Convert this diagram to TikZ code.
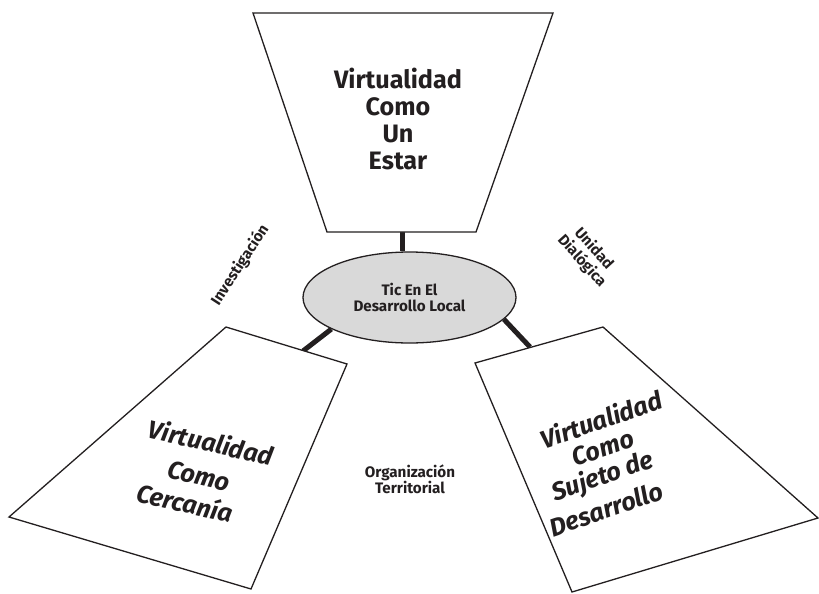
\documentclass[tikz,border=0pt]{standalone}
\usepackage{fontspec}
\setmainfont{Fira Sans}
\usetikzlibrary{shapes.geometric}
\definecolor{ink}{HTML}{231F20}
\definecolor{hubfill}{HTML}{D9D9D9}
\begin{document}
\begin{tikzpicture}[x=1pt,y=-1pt,
  panel/.style={draw=ink, line width=1.3pt, fill=white, line join=miter},
  link/.style={draw=ink, line width=5pt},
  big/.style={font=\bfseries\fontsize{25.2}{26.7}\selectfont, text=ink, align=center, inner sep=0pt},
  bigit/.style={font=\bfseries\itshape\fontsize{25.2}{26.7}\selectfont, text=ink, inner sep=0pt},
  lbl/.style={font=\bfseries\fontsize{15.2}{16}\selectfont, text=ink, align=center, inner sep=0pt}]
\useasboundingbox (0,0) rectangle (819,594);
% panel corners
\coordinate (t1) at (253,13);  \coordinate (t2) at (553,13);
\coordinate (t3) at (476,232); \coordinate (t4) at (327,232);
\coordinate (l1) at (226,327); \coordinate (l2) at (347,364);
\coordinate (l3) at (251,589); \coordinate (l4) at (9,517);
\coordinate (r1) at (475,363); \coordinate (r2) at (603,327);
\coordinate (r3) at (818,518); \coordinate (r4) at (572,592);
% attach points on panels
\coordinate (topfoot) at (402,232);
\coordinate (lfoot) at (303,351);
\coordinate (rfoot) at (530,347);
% hub
\node[ellipse, draw=ink, line width=1.3pt, fill=hubfill, minimum width=213pt,
      minimum height=91pt, inner sep=0pt, lbl] (hub) at (409.5,297.5) {Tic En El\\Desarrollo Local};
% connectors
\draw[link] (topfoot) -- (topfoot |- hub.north);
\draw[link] (hub.202) -- (lfoot);
\draw[link] (hub.347) -- (rfoot);
% panels
\draw[panel] (t1) -- (t2) -- (t3) -- (t4) -- cycle;
\draw[panel] (l1) -- (l2) -- (l3) -- (l4) -- cycle;
\draw[panel] (r1) -- (r2) -- (r3) -- (r4) -- cycle;
% panel texts
\node[big] (toptext) at (398,119) {Virtualidad\\Como\\Un\\Estar};
\node[bigit, rotate=-13] (lt1) at (211,442) {Virtualidad};
\node[bigit, rotate=-13] (lt2) at (199,476) {Como};
\node[bigit, rotate=-13] (lt3) at (185,502) {Cercanía};
\node[bigit, rotate=19] (rt1) at (601,419) {Virtualidad};
\node[bigit, rotate=19] (rt2) at (603,448) {Como};
\node[bigit, rotate=19] (rt3) at (603,477) {Sujeto de};
\node[bigit, rotate=19] (rt4) at (606,509) {Desarrollo};
% labels
\node[lbl, rotate=57] (inv) at (240,265) {Investigación};
\node[lbl, rotate=-48] (uni1) at (595,248) {Unidad};
\node[lbl, rotate=-48] (uni2) at (582,261) {Dialógica};
\node[lbl] (org) at (410,479) {Organización\\Territorial};
\end{tikzpicture}
\end{document}
